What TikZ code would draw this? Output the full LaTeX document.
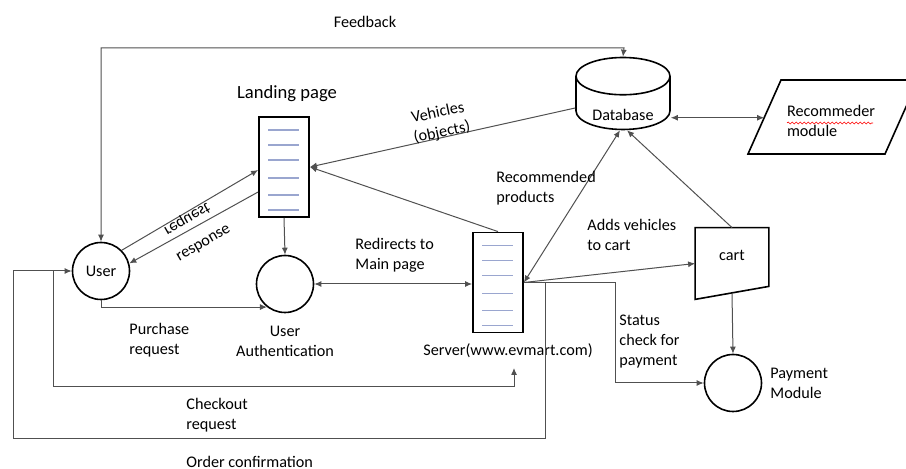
\documentclass[tikz,border=0pt]{standalone}
\usepackage{fontspec}
\setmainfont{Carlito}
\usetikzlibrary{shapes.geometric, arrows.meta, positioning, calc, decorations.pathmorphing}
\definecolor{docline}{HTML}{9AA6CF}
\definecolor{wirecolor}{HTML}{505050}

\begin{document}
\begin{tikzpicture}[
    x=0.5pt, y=-0.5pt, >={Latex[length=3.5pt,width=3pt]},
    font=\fontsize{8.1pt}{10pt}\selectfont,
    wire/.style={draw=wirecolor, line width=0.5pt},
    proc/.style={draw, circle, line width=0.8pt, minimum size=28.5pt, inner sep=0pt},
    doc/.style={draw, rectangle, line width=0.9pt, minimum width=25pt, minimum height=50pt,
        path picture={\foreach \f in {0.13,0.28,0.43,0.61,0.78,0.93}
            \draw[docline, line width=0.6pt] ($(path picture bounding box.north west)!\f!(path picture bounding box.south west)+(9,0)$) -- ++(31,0);}},
    dbase/.style={draw, cylinder, shape border rotate=90, aspect=0.5, line width=0.8pt, minimum width=47pt, minimum height=36pt},
    note/.style={align=left, anchor=west, inner sep=0pt}
]
    \useasboundingbox (0,0) rectangle (906,469);

    % Main blocks
    \node[proc] (user) at (101,271) {User};
    \node[doc] (landing) at (284,167) {};
    \node[proc] (auth) at (285,284) {};
    \node[doc] (server) at (498,282.5) {};
    \node[dbase] (db) at (623,108) {\raisebox{-6.5pt}[0pt][0pt]{Database}};
    \node[align=left, inner sep=0pt] (recm) at (831,121) {Recommeder\\module};
    \node[minimum width=36.5pt, minimum height=35.5pt, inner sep=0pt] (cart) at (732,263.5) {\raisebox{1.5pt}[0pt][0pt]{cart}};
    \node[proc] (pay) at (733,383) {};

    % recommender outline (parallelogram)
    \draw[line width=0.8pt] ($(recm)+(-83,33)$) coordinate (rsw) -- ++(137,0) -- ++(33,-74) -- ++(-137,0) coordinate (rnw) -- cycle;
    \coordinate (rin) at ($(rsw)!0.49!(rnw)$);

    % cart outline (slanted bottom)
    \draw[line width=0.8pt] (cart.north west) -- (cart.north east) -- ($(cart.south east)+(0,-13)$) -- (cart.south west) -- cycle;
    \coordinate (cartbot) at ($(cart.south)+(0,-6.5)$);

    % spell check mark
    \draw[red, line width=0.3pt, decorate, decoration={snake, amplitude=0.5pt, segment length=2pt}] (787,123) -- (873,123);

    % Block titles
    \node (landlbl) at (287,94) {\fontsize{9.3pt}{11pt}\selectfont Landing page};
    \node[align=center] (authlbl) at (285,341) {User\\Authentication};
    \node (srvlbl) at (508,351) {Server(www.evmart.com)};
    \node[note] (paylbl) at (770,383) {Payment\\Module};

    % Helper points
    \coordinate (fb) at (624,48);
    \coordinate (jn) at (53,271);
    \coordinate (chk) at (514,368);
    \coordinate (oc1) at (545,439);
    \coordinate (oc2) at (13,271);

    % Connections - user side
    \draw[wire, <->] (user.north) |- (fb) -- (db.north);
    \draw[wire, ->] (user.45) -- ($(landing.west)+(0,3)$);
    \draw[wire, ->] ($(landing.west)+(0,25)$) -- (user.15);
    \draw[wire, ->] (landing.south) -- (auth.north);
    \draw[wire, ->] (user.south) |- (auth.232);
    \draw[wire, <->] (auth.east) -- (auth.east -| server.west);

    % Connections - server and database
    \draw[wire, ->] (db.west) -- (landing.east);
    \draw[wire, ->] (server.north) -- (landing.east);
    \draw[wire, <->] (server.east) -- ($(db.south)+(-3,0)$);
    \draw[wire, ->] (cart.north) -- ($(db.south)+(4,0)$);
    \draw[wire, <->] (db.east |- rin) -- (rin);
    \draw[wire, ->] (server.east) -- (cart.west);
    \draw[wire, ->] (server.east) -- ++(92,0) |- (pay.west);
    \draw[wire, ->] (cartbot) -- (pay.north);

    % Connections - checkout loop
    \draw[wire, ->] (jn) |- ($(chk)+(0,19)$) -- (chk);
    \draw[wire, ->] (server.east) -| (oc1) -| (oc2) -- (user.west);

    % Connector labels
    \node (fblbl) at (365,22) {Feedback};
    \node[cm={0.866,0.5,0.5,-0.866,(0,0)}, inner sep=1pt] (reqlbl) at (187,219) {request};
    \node[rotate=30, inner sep=1pt] (reslbl) at (204,244) {response};
    \node[note] (purlbl) at (129,340) {Purchase\\request};
    \node[note] (redlbl) at (355,255) {Redirects to\\Main page};
    \node[rotate=12, align=center] (vehlbl) at (440,123) {Vehicles\\(objects)};
    \node[note] (reclbl) at (496,188) {Recommended\\products};
    \node[note] (addlbl) at (587,235) {Adds vehicles\\to cart};
    \node[note] (stalbl) at (619,342) {Status\\check for\\payment};
    \node[note] (chklbl) at (186,415) {Checkout\\request};
    \node[note] (ordlbl) at (186,462) {Order confirmation};
\end{tikzpicture}
\end{document}
